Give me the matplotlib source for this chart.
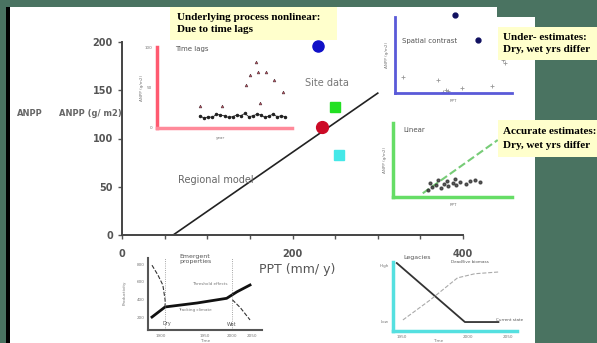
import numpy as np
import matplotlib
matplotlib.use("Agg")
import matplotlib.pyplot as plt
from matplotlib.patches import Rectangle

W, H = 597, 343

# main chart
ppt_ticks = [0, 50, 100, 150, 200, 250, 300, 350, 400]
ppt_labels = ["0", "", "", "", "200", "", "", "", "400"]
anpp_ticks = [0, 50, 100, 150, 200]
model_ppt = [60, 300]
model_anpp = [0, 147]
site_ppt = [230, 235, 250, 254]
site_anpp = [196, 112, 133, 83]
site_colors = ["#1010c8", "#cc0a26", "#22e022", "#44e8e8"]
site_markers = ["o", "o", "s", "s"]
site_sizes = [8, 8.5, 7.5, 7.5]

# inset: time lags
lag_x = [32, 35, 38, 41, 44, 47, 50, 53, 56, 59, 62, 65, 68, 71, 74, 77, 80, 83, 86, 89, 92, 95]
lag_y = [15, 12, 14, 13, 17, 16, 15, 13, 14, 16, 15, 18, 14, 15, 17, 16, 13, 15, 17, 14, 15, 14]
lag_rx = [73, 69, 75, 81, 87, 66, 93, 32, 48, 76]
lag_ry = [81, 65, 69, 69, 59, 53, 44, 27, 27, 31]

# inset: spatial contrast
sp_x = [51, 71]
sp_y = [102, 70]
sp_gx = [92, 94, 7, 37, 44, 57, 83, 41, 45]
sp_gy = [43, 39, 21, 17, 4, 7, 9, 1, 3]

# inset: linear
lin_line_x = [25, 88]
lin_line_y = [5, 77]
lin_x = [29, 33, 36, 40, 43, 46, 50, 53, 56, 61, 65, 31, 38, 45, 52, 69, 73]
lin_y = [9, 14, 16, 12, 18, 15, 19, 16, 20, 18, 22, 19, 23, 22, 24, 23, 20]

# inset: emergent properties
em_x = [3.5, 15, 43, 69, 78, 89.5]
em_y = [18, 32, 37.5, 44, 53, 62.5]
em_lx = [3.5, 8.8, 13, 15, 15]
em_ly = [90, 76, 62.5, 42, 32]
em_rx = [74, 81, 87, 89.5]
em_ry = [42, 31, 19, 14]

# inset: legacies
leg_x = [3, 58, 85]
leg_y = [98.5, 13, 13]
leg_dx = [8, 30, 52, 66, 85]
leg_dy = [16, 45, 77, 83, 85.5]


def px_axes(x0, y0, x1, y1):
    return fig.add_axes([x0 / W, 1 - y1 / H, (x1 - x0) / W, (y1 - y0) / H])


def px_rect(x0, y0, x1, y1, color, z=-1):
    fig.patches.append(Rectangle((x0 / W, 1 - y1 / H), (x1 - x0) / W, (y1 - y0) / H,
                                 transform=fig.transFigure, facecolor=color,
                                 edgecolor="none", zorder=z))


def px_text(x, y, s, **kw):
    fig.text(x / W, 1 - y / H, s, **kw)


def inset(x0, y0, x1, y1, color, lw=2.0):
    a = px_axes(x0, y0, x1, y1)
    a.set_xlim(0, 100)
    a.set_ylim(0, 100)
    a.patch.set_alpha(0)
    for s in ["top", "right"]:
        a.spines[s].set_visible(False)
    for s in ["left", "bottom"]:
        a.spines[s].set_color(color)
        a.spines[s].set_linewidth(lw)
    a.set_xticks([])
    a.set_yticks([])
    return a


fig = plt.figure(figsize=(W / 100, H / 100), dpi=100)
fig.patch.set_facecolor("#4a7361")

# slide background
px_rect(9.5, 7, 497, 343, "white")
px_rect(497, 17, 535, 343, "white")
px_rect(6, 7, 9.5, 343, "black")

# main axes
ax = px_axes(122, 42, 463, 235)
ax.patch.set_alpha(0)
ax.plot(model_ppt, model_anpp, color="#222222", lw=1.2)
for x, y, c, m, s in zip(site_ppt, site_anpp, site_colors, site_markers, site_sizes):
    ax.plot(x, y, marker=m, color=c, ms=s, mec=c, clip_on=False, zorder=5)
ax.set_xlim(0, 400)
ax.set_ylim(0, 200)
ax.set_xticks(ppt_ticks)
ax.set_xticklabels(ppt_labels)
ax.set_yticks(anpp_ticks)
for s in ["top", "right"]:
    ax.spines[s].set_visible(False)
for s in ["left", "bottom"]:
    ax.spines[s].set_color("#444444")
    ax.spines[s].set_linewidth(1.4)
ax.tick_params(colors="#555555", labelsize=7, length=3, width=1)
for t in ax.get_xticklabels() + ax.get_yticklabels():
    t.set_fontweight("bold")
ax.tick_params(axis="x", pad=7)
ax.text(110, 57, "Regional model", fontsize=7, color="#666666", ha="center", va="center")
ax.text(240, 157, "Site data", fontsize=7, color="#777777", ha="center", va="center")
px_text(30, 114, "ANPP", fontsize=6, color="#666666", ha="center", va="center", fontweight="bold")
px_text(90, 114, "ANPP (g/ m2)", fontsize=6, color="#666666", ha="center", va="center", fontweight="bold")
px_text(297, 270, "PPT (mm/ y)", fontsize=9, color="#555555", ha="center", va="center")

# inset: time lags
a1 = inset(157, 47, 292, 128, "#ff5a70", lw=2.5)
a1.spines["bottom"].set_color("#ff8a9a")
a1.plot(lag_x, lag_y, "-o", color="#222222", lw=0.6, ms=1.5)
a1.plot(lag_rx, lag_ry, "^", color="#c05060", ms=2, mec="#503038", mew=0.4)
px_text(175, 49, "Time lags", fontsize=5, color="#555555", va="center")
px_text(152, 48, "100", fontsize=3, color="#777777", ha="right", va="center")
px_text(152, 88, "50", fontsize=3, color="#777777", ha="right", va="center")
px_text(152, 128, "0", fontsize=3, color="#777777", ha="right", va="center")
px_text(142, 88, "ANPP (g/m2)", fontsize=3, color="#777777", ha="center", va="center", rotation=90)
px_text(220, 138, "year", fontsize=3, color="#777777", ha="center", va="center")

# inset: spatial contrast
a2 = inset(395, 17, 512, 93, "#5a5ad8")
a2.plot(sp_x, sp_y, "o", color="#101060", ms=3.5, clip_on=False)
a2.plot(sp_gx, sp_gy, "+", color="#999999", ms=3, mew=0.6)
px_text(402, 41, "Spatial contrast", fontsize=5, color="#555555", va="center")
px_text(387, 55, "ANPP (g/m2)", fontsize=3, color="#777777", ha="center", va="center", rotation=90)
px_text(453, 101, "PPT", fontsize=3, color="#777777", ha="center", va="center")

# inset: linear
a3 = inset(393, 123, 512, 197, "#66dd66", lw=2.5)
a3.plot(lin_line_x, lin_line_y, "--", color="#77cc77", lw=1.5)
a3.plot(lin_x, lin_y, "o", color="#333333", ms=2, alpha=0.8)
px_text(403, 130, "Linear", fontsize=5, color="#555555", va="center")
px_text(385, 160, "ANPP (g/m2)", fontsize=3, color="#777777", ha="center", va="center", rotation=90)
px_text(453, 205, "PPT", fontsize=3, color="#777777", ha="center", va="center")

# inset: emergent properties
a4 = inset(148, 258, 262, 330, "#555555", lw=1.5)
a4.plot(em_x, em_y, "-", color="#111111", lw=2)
a4.plot(em_lx, em_ly, "--", color="#333333", lw=0.8)
a4.plot(em_rx, em_ry, "--", color="#333333", lw=0.8)
a4.axvline(15, color="#888888", lw=0.6, ls=":")
a4.axvline(74, color="#888888", lw=0.6, ls=":")
px_text(195, 259, "Emergent\nproperties", fontsize=4.5, color="#555555", ha="center", va="center", linespacing=1.0)
px_text(167, 324, "Dry", fontsize=3.5, color="#555555", ha="center", va="center")
px_text(232, 324, "Wet", fontsize=3.5, color="#555555", ha="center", va="center")
px_text(195, 310, "Tracking climate", fontsize=3, color="#777777", ha="center", va="center")
px_text(210, 284, "Threshold effects", fontsize=3, color="#777777", ha="center", va="center")
px_text(125, 293, "Productivity", fontsize=3, color="#777777", ha="center", va="center", rotation=90)
for yy, lab in zip([265, 282, 300, 318], ["800", "600", "400", "200"]):
    px_text(145, yy, lab, fontsize=3, color="#777777", ha="right", va="center")
for xx, lab in zip([161, 205, 232, 252], ["1900", "1950", "2000", "2050"]):
    px_text(xx, 336, lab, fontsize=3, color="#777777", ha="center", va="center")
px_text(205, 341, "Time", fontsize=3, color="#777777", ha="center", va="center")

# inset: legacies
a5 = inset(393, 262, 517, 331, "#55e0e0", lw=2.5)
a5.plot(leg_x, leg_y, "-", color="#333333", lw=1.3)
a5.plot(leg_dx, leg_dy, "--", color="#aaaaaa", lw=0.8)
px_text(403, 258, "Legacies", fontsize=4.5, color="#555555", va="center")
px_text(470, 262, "Dead/live biomass", fontsize=3, color="#555555", ha="center", va="center")
px_text(510, 320, "Current state", fontsize=3, color="#555555", ha="center", va="center")
px_text(389, 266, "High", fontsize=3, color="#777777", ha="right", va="center")
px_text(389, 322, "Low", fontsize=3, color="#777777", ha="right", va="center")
for xx, lab in zip([402, 468, 508], ["1950", "2000", "2050"]):
    px_text(xx, 337, lab, fontsize=3, color="#777777", ha="center", va="center")
px_text(438, 341, "Time", fontsize=3, color="#777777", ha="center", va="center")

# yellow note boxes
serif = ["Liberation Serif", "DejaVu Serif"]
px_rect(170, 7, 337, 40, "#ffffcc", z=3)
px_text(177, 17, "Underlying process nonlinear:", fontsize=8, family=serif,
        fontweight="bold", va="center", zorder=4)
px_text(177, 30, "Due to time lags", fontsize=8, family=serif,
        fontweight="bold", va="center", zorder=4)
px_rect(498, 27, 597, 60, "#ffffcc", z=3)
px_text(503, 37, "Under- estimates:", fontsize=8, family=serif,
        fontweight="bold", va="center", zorder=4)
px_text(503, 50, "Dry, wet yrs differ", fontsize=8, family=serif,
        fontweight="bold", va="center", zorder=4)
px_rect(498, 120, 597, 157, "#ffffcc", z=3)
px_text(503, 131, "Accurate estimates:", fontsize=8, family=serif,
        fontweight="bold", va="center", zorder=4)
px_text(503, 145, "Dry, wet yrs differ", fontsize=8, family=serif,
        fontweight="bold", va="center", zorder=4)

fig.savefig("out.png", dpi=100, facecolor=fig.get_facecolor())
